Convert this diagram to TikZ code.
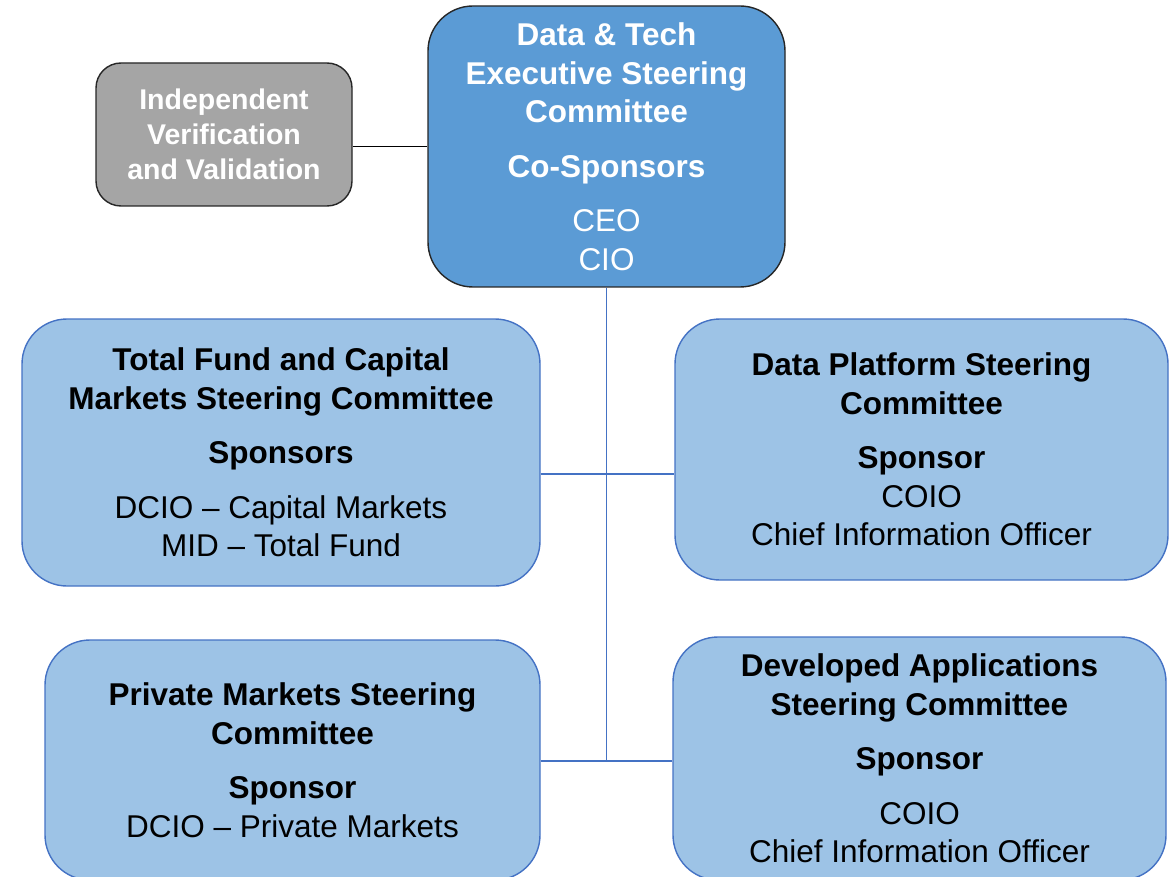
\documentclass[tikz,border=0pt]{standalone}
\usepackage{fontspec}
\setmainfont{Liberation Sans}
\definecolor{topblue}{HTML}{5B9BD5}
\definecolor{lightblue}{HTML}{9DC3E6}
\definecolor{edgeblue}{HTML}{4472C4}
\definecolor{ivvgray}{HTML}{A5A5A5}
\definecolor{darkedge}{HTML}{262626}
\tikzset{
  basebox/.style={rectangle, align=center, inner sep=0pt, line width=1.4pt,
    font=\fontsize{31.5}{38.5}\selectfont},
  topbox/.style={basebox, fill=topblue, draw=darkedge, text=white, rounded corners=45pt},
  subbox/.style={basebox, fill=lightblue, draw=edgeblue, text=black, rounded corners=45pt},
  ivvbox/.style={basebox, fill=ivvgray, draw=darkedge, text=white, rounded corners=25pt,
    font=\fontsize{28.5}{35}\selectfont\bfseries},
  bluelink/.style={draw=edgeblue, line width=1.4pt},
  blacklink/.style={draw=black, line width=1.1pt}
}
\begin{document}
\begin{tikzpicture}[x=1pt,y=-1pt]
\useasboundingbox (0,0) rectangle (1175,877);
\clip (0,0) rectangle (1175,877);

\node[ivvbox, minimum width=256pt, minimum height=143pt] (ivv) at (224,134.5)
  {Independent\\Verification\\and Validation};

\node[topbox, minimum width=357pt, minimum height=281pt] (top) at (606.5,146.5)
  {\bfseries Data \& Tech\\\bfseries Executive Steering\\\bfseries Committee\\[16pt]
   \bfseries Co-Sponsors\\[16pt] CEO\\CIO};

\node[subbox, minimum width=518pt, minimum height=267pt] (tf) at (281,452.5)
  {\bfseries Total Fund and Capital\\\bfseries Markets Steering Committee\\[16pt]
   \bfseries Sponsors\\[16pt] DCIO -- Capital Markets\\MID -- Total Fund};

\node[subbox, minimum width=493pt, minimum height=261pt] (dp) at (921.5,449.5)
  {\bfseries Data Platform Steering\\\bfseries Committee\\[16pt]
   \bfseries Sponsor\\COIO\\Chief Information Officer};

\node[subbox, minimum width=495pt, minimum height=240pt] (pm) at (292.5,760)
  {\bfseries Private Markets Steering\\\bfseries Committee\\[16pt]
   \bfseries Sponsor\\DCIO -- Private Markets};

\node[subbox, minimum width=493pt, minimum height=243pt] (da) at (919.5,758.5)
  {\bfseries Developed Applications\\\bfseries Steering Committee\\[16pt]
   \bfseries Sponsor\\[16pt] COIO\\Chief Information Officer};

\coordinate (j1) at (607,474);
\coordinate (j2) at (607,761);

\draw[blacklink] (ivv.east |- top.west) -- (top.west);
\draw[bluelink] (top.south) -- (top.south |- j2);
\draw[bluelink] (tf.east |- j1) -- (dp.west |- j1);
\draw[bluelink] (pm.east |- j2) -- (da.west |- j2);
\end{tikzpicture}
\end{document}
